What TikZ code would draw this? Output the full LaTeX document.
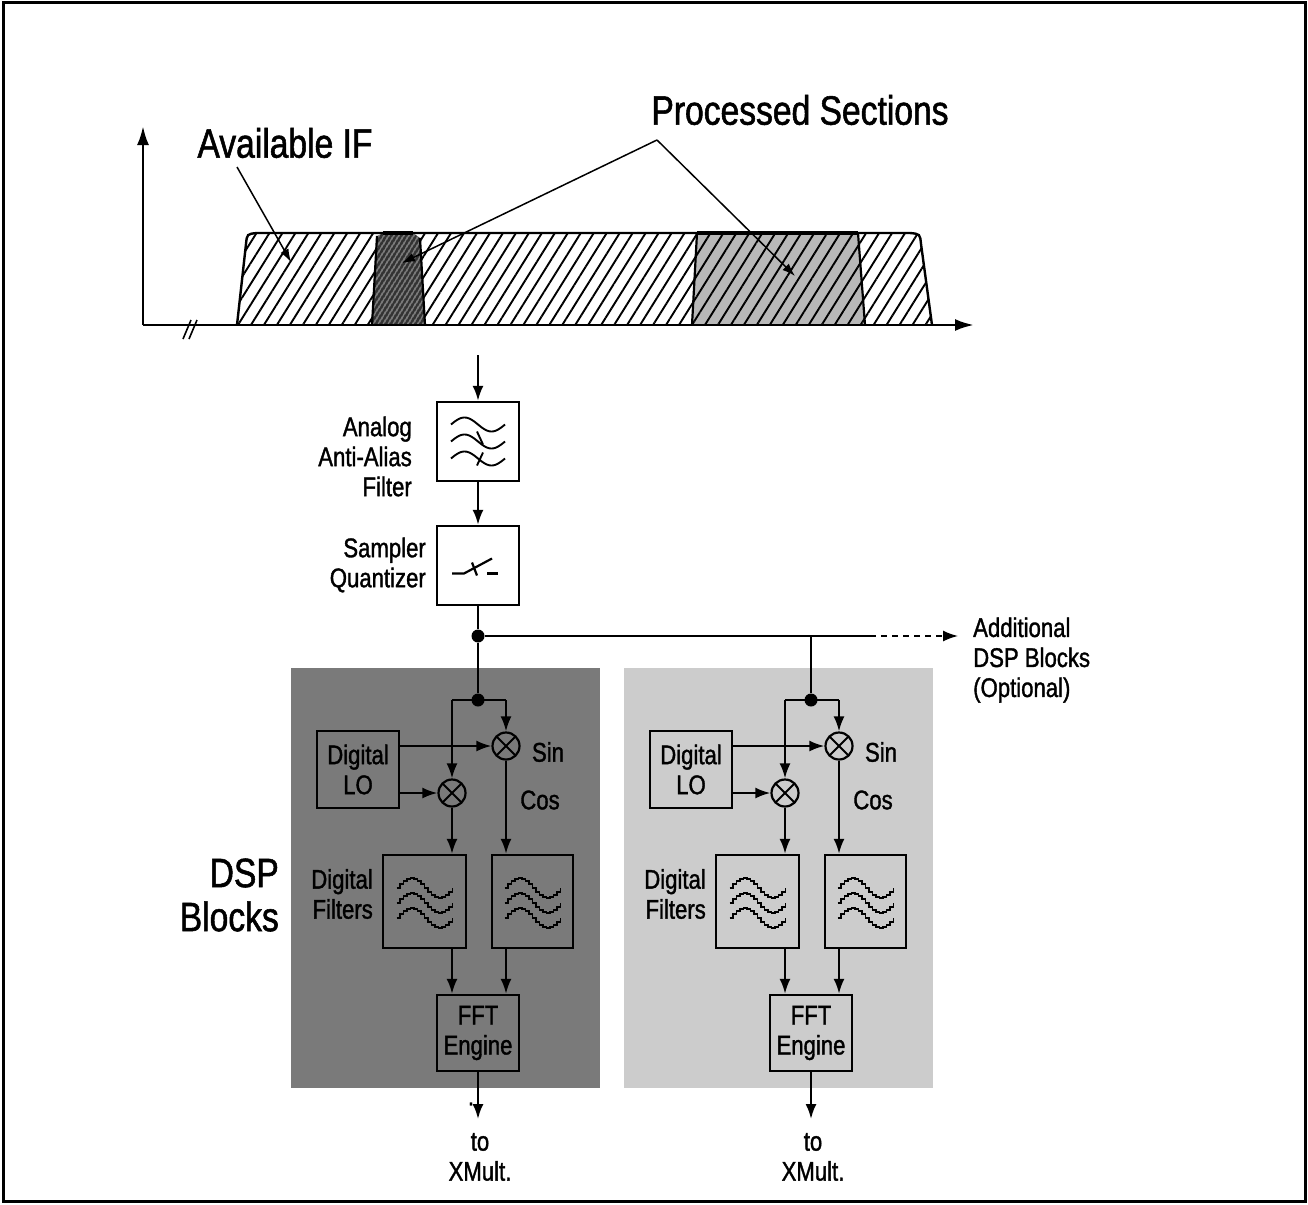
\documentclass[tikz,border=0pt]{standalone}
\usepackage{fontspec}
\setmainfont{Liberation Sans}[FakeStretch=0.82, FakeBold=1.3]
\usetikzlibrary{arrows.meta,patterns.meta,calc}
\begin{document}
\begin{tikzpicture}[x=1pt,y=-1pt,
  lbl/.style={font=\fontsize{27}{30}\selectfont, inner sep=0pt, align=right},
  big/.style={font=\fontsize{41}{44}\selectfont, inner sep=0pt},
  blk/.style={draw, line width=2.4pt, inner sep=0pt},
  mix/.style={circle, draw, line width=2.2pt, minimum size=27pt, inner sep=0pt,
    path picture={\draw[line width=1.8pt] (path picture bounding box.north west) -- (path picture bounding box.south east)
      (path picture bounding box.north east) -- (path picture bounding box.south west);}},
  arr/.style={line width=2.2pt, -{Latex[length=15pt,width=11pt]}},
  ln/.style={line width=2.2pt},
  jdot/.style={circle, fill, inner sep=0pt, minimum size=13pt},
  ldr/.style={line width=1.5pt, -{Latex[length=13pt,width=9pt]}},
  axis/.style={line width=2.8pt, -{Latex[length=19pt,width=12pt]}}
]
\useasboundingbox (0,0) rectangle (1308,1204);
\draw[line width=3pt] (3,3) rectangle (1305,1201);

% ---------- spectrum ----------
\fill[black!28] (692,325) -- (697,233) -- (858,233) -- (865,325) -- cycle;
\fill[pattern={Lines[angle=58,distance=11pt,line width=1.9pt]}, pattern color=black]
  (237,325) -- (246,244) .. controls (247,234) .. (257,233) -- (910,233) .. controls (920,234) .. (921,244) -- (932,325) -- cycle;
\fill[black!80] (372,325) -- (377,236) -- (383,233) -- (413,233) -- (420,238) -- (425,325) -- cycle;
\fill[pattern={Lines[angle=58,distance=4pt,line width=0.7pt]}, pattern color=white]
  (372,325) -- (377,236) -- (383,233) -- (413,233) -- (420,238) -- (425,325) -- cycle;
\draw[line width=2.4pt] (237,325) -- (246,244) .. controls (247,234) .. (257,233) -- (910,233) .. controls (920,234) .. (921,244) -- (932,325);
\draw[line width=2.2pt] (372,325) -- (377,236) (420,238) -- (425,325);
\draw[line width=2.2pt] (692,325) -- (697,233) (858,233) -- (865,325);
\draw[line width=4.5pt] (383,233) -- (413,233) (697,233) -- (858,233);

\coordinate (O) at (143,325);
\coordinate (ytip) at (143,126);
\coordinate (xtip) at (974,325);
\draw[axis] (O) -- (ytip);
\draw[axis] (O) -- (xtip);
\draw[line width=1.6pt] (183,339) -- (191,320) (189,339) -- (197,320);

\node[big] (avail) at (285,143) {Available IF};
\node[big] (proc) at (800,110) {Processed Sections};
\coordinate (ifstart) at (237,167);
\coordinate (ifpt) at (291,262);
\coordinate (apex) at (657,140);
\coordinate (s1pt) at (402,263);
\coordinate (s2pt) at (795,276);
\draw[ldr] (ifstart) -- (ifpt);
\draw[ldr] (apex) -- (s1pt);
\draw[ldr] (apex) -- (s2pt);

% ---------- front end ----------
\node[blk, minimum width=82pt, minimum height=79pt] (aaf) at (478,441.5) {};
\node[blk, minimum width=82pt, minimum height=79pt] (sq) at (478,565.5) {};
\node[lbl, anchor=east] (aaflbl) at (412,456.5) {Analog\\Anti-Alias\\Filter};
\node[lbl, anchor=east] (sqlbl) at (426,565) {Sampler\\Quantizer};

\begin{scope}[shift={(478,441.5)}]
  \foreach \dy in {-17,0,17}
    \draw[line width=1.9pt] plot[domain=-27:27, samples=40, smooth] (\x,{\dy+7*sin(\x*180/27)});
  \draw[line width=1.9pt] (-1,-10) -- (5,3);
  \draw[line width=1.9pt] (-1,24) -- (5,11);
\end{scope}
\begin{scope}[shift={(478,565.5)}]
  \draw[line width=2.2pt] (-26,8) -- (-14,8) -- (14,-7);
  \draw[line width=2.2pt] (-6,-3) -- (-1,10);
  \draw[line width=2.2pt] (9,8) -- (20,8);
\end{scope}

\coordinate (in) at (478,355);
\draw[arr] (in) -- (aaf.north);
\draw[arr] (aaf.south) -- (sq.north);
\node[jdot] (jm) at (478,636) {};
\draw[ln] (sq.south) -- (jm);

% ---------- DSP blocks ----------
\foreach \ox/\col in {0/black!52, 333/black!20} {
  \fill[\col] (291+\ox,668) rectangle (600+\ox,1088);
  \node[jdot] (d\ox) at (478+\ox,700) {};
  \coordinate (l\ox) at (452+\ox,700);
  \coordinate (r\ox) at (506+\ox,700);
  \node[mix] (ma\ox) at (506+\ox,746) {};
  \node[mix] (mb\ox) at (452+\ox,793) {};
  \node[blk, lbl, align=center, minimum width=82pt, minimum height=77pt] (lo\ox) at (358+\ox,769.5) {Digital\\LO};
  \node[blk, minimum width=83pt, minimum height=93pt] (fa\ox) at (424.5+\ox,901.5) {};
  \node[blk, minimum width=81pt, minimum height=93pt] (fb\ox) at (532.5+\ox,901.5) {};
  \node[blk, lbl, align=center, minimum width=82pt, minimum height=76pt] (fft\ox) at (478+\ox,1033) {FFT\\Engine};
  \node[lbl] (sin\ox) at (548+\ox,752) {Sin};
  \node[lbl] (cos\ox) at (540+\ox,800) {Cos};
  \node[lbl, anchor=east] (dfl\ox) at (373+\ox,894) {Digital\\Filters};
  \node[lbl, align=center] (to\ox) at (480+\ox,1157) {to\\XMult.};
  \coordinate (out\ox) at (478+\ox,1119);
  \foreach \fx in {424.5,532.5} {
    \begin{scope}[shift={(\fx+\ox,903)}]
      \foreach \dy in {-15,0,15}
        \draw[line width=1.8pt] plot[const plot, domain=-28:28, samples=17] (\x,{\dy+10*sin(\x*180/28)});
    \end{scope}
  }
  \draw[ln] (l\ox) -- (r\ox);
  \draw[arr] (r\ox) -- (ma\ox.north);
  \draw[arr] (l\ox) -- (mb\ox.north);
  \draw[arr] (lo\ox.east |- ma\ox) -- (ma\ox.west);
  \draw[arr] (lo\ox.east |- mb\ox) -- (mb\ox.west);
  \draw[arr] (ma\ox.south) -- (ma\ox.south |- fb\ox.north);
  \draw[arr] (mb\ox.south) -- (mb\ox.south |- fa\ox.north);
  \draw[arr] (fa\ox.south -| mb\ox) -- (fft\ox.north -| mb\ox);
  \draw[arr] (fb\ox.south -| ma\ox) -- (fft\ox.north -| ma\ox);
  \draw[arr] (fft\ox.south) -- (out\ox);
}
\node[lbl] (dotmark) at (471,1104) {.};

\draw[ln] (jm) -- (d0);
\coordinate (br) at (811,636);
\coordinate (dsplit) at (870,636);
\coordinate (addtip) at (958,636);
\draw[ln] (jm) -- (dsplit);
\draw[ln] (br) -- (d333);
\draw[line width=1.6pt, dash pattern=on 6pt off 5pt, -{Latex[length=15pt,width=11pt]}] (dsplit) -- (addtip);
\node[lbl, anchor=west, align=left] (addl) at (973,660) {Additional\\DSP Blocks\\(Optional)};
\node[big, anchor=east, align=right] (dsp) at (279,895) {DSP\\Blocks};
\end{tikzpicture}
\end{document}
